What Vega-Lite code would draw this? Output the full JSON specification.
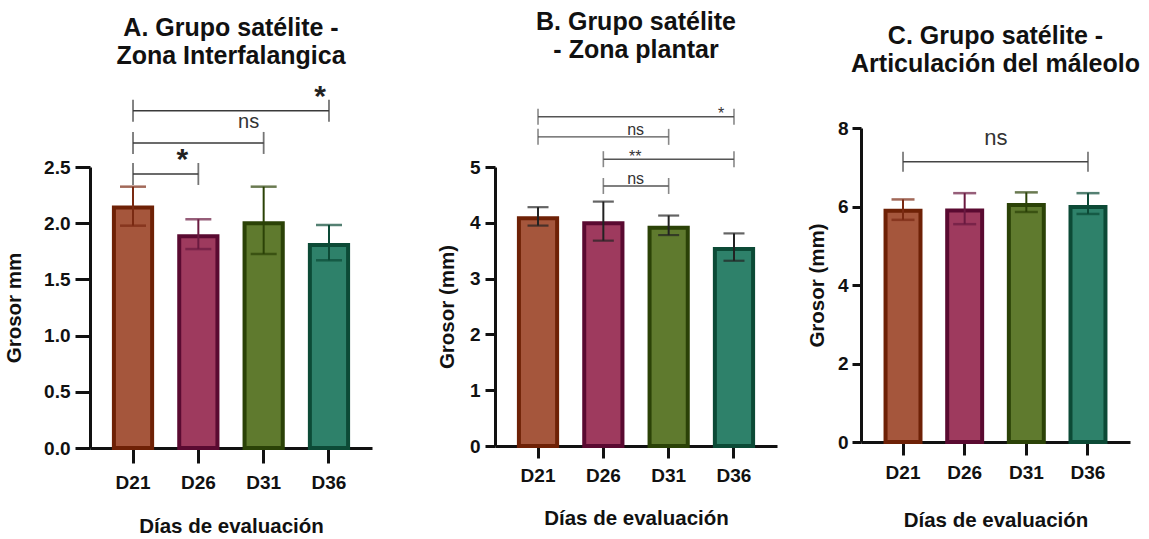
{
  "$schema": "https://vega.github.io/schema/vega-lite/v6.json",
  "background": "white",
  "autosize": "none",
  "padding": {"left": 90, "top": 128, "right": 1059, "bottom": 411},
  "config": {
    "font": "Liberation Sans",
    "view": {"stroke": null},
    "axis": {"domainColor": "#111", "domainWidth": 3, "tickColor": "#111", "tickWidth": 3, "labelFont": "Liberation Sans", "labelFontWeight": "bold", "labelFontSize": 19, "labelColor": "#111", "titleFont": "Liberation Sans", "titleFontWeight": "bold", "titleFontSize": 20.5, "titleColor": "#111", "grid": false},
    "title": {"fontSize": 1, "subtitleFont": "Liberation Sans", "subtitleFontSize": 25, "subtitleFontWeight": "bold", "subtitleColor": "#111", "subtitleLineHeight": 28, "anchor": "middle", "frame": "group"}
  },
  "datasets": {
    "bars": [
      {"panel": "A", "day": "D21", "mean": 2.14, "lo": 1.978, "hi": 2.325},
      {"panel": "A", "day": "D26", "mean": 1.885, "lo": 1.77, "hi": 2.035},
      {"panel": "A", "day": "D31", "mean": 2.0, "lo": 1.726, "hi": 2.325},
      {"panel": "A", "day": "D36", "mean": 1.806, "lo": 1.67, "hi": 1.984},
      {"panel": "B", "day": "D21", "mean": 4.08, "lo": 3.95, "hi": 4.28},
      {"panel": "B", "day": "D26", "mean": 3.99, "lo": 3.68, "hi": 4.38},
      {"panel": "B", "day": "D31", "mean": 3.91, "lo": 3.78, "hi": 4.13},
      {"panel": "B", "day": "D36", "mean": 3.53, "lo": 3.32, "hi": 3.81},
      {"panel": "C", "day": "D21", "mean": 5.89, "lo": 5.66, "hi": 6.18},
      {"panel": "C", "day": "D26", "mean": 5.9, "lo": 5.55, "hi": 6.34},
      {"panel": "C", "day": "D31", "mean": 6.04, "lo": 5.86, "hi": 6.36},
      {"panel": "C", "day": "D36", "mean": 5.99, "lo": 5.81, "hi": 6.34}
    ],
    "brackets": [
      {"panel": "A", "id": "a1", "from": "D21", "to": "D26", "y": 2.438, "label": "*"},
      {"panel": "A", "id": "a2", "from": "D21", "to": "D31", "y": 2.714, "label": "ns"},
      {"panel": "A", "id": "a3", "from": "D21", "to": "D36", "y": 3.0, "label": "*"},
      {"panel": "B", "id": "b1", "from": "D21", "to": "D36", "y": 5.9, "label": "*"},
      {"panel": "B", "id": "b2", "from": "D21", "to": "D31", "y": 5.54, "label": "ns"},
      {"panel": "B", "id": "b3", "from": "D26", "to": "D36", "y": 5.14, "label": "**"},
      {"panel": "B", "id": "b4", "from": "D26", "to": "D31", "y": 4.66, "label": "ns"},
      {"panel": "C", "id": "c1", "from": "D21", "to": "D36", "y": 7.14, "label": "ns"}
    ]
  },
  "spacing": 65,
  "hconcat": [
    {
      "width": 282, "height": 320,
      "title": {"text": " ", "subtitle": ["A. Grupo satélite -", "Zona Interfalangica"], "subtitlePadding": 0, "offset": 13},
      "layer": [
        {"data": {"name": "bars"}, "transform": [{"filter": "datum.panel === 'A'"}],
         "mark": {"type": "bar", "strokeWidth": 4},
         "encoding": {
           "x": {"field": "day", "type": "nominal", "title": "Días de evaluación", "scale": {"domain": ["D21", "D26", "D31", "D36"], "paddingInner": 0.415, "paddingOuter": 0.366}, "axis": {"labelAngle": 0, "tickSize": 15, "labelPadding": 10, "titlePadding": 24}},
           "y": {"field": "mean", "type": "quantitative", "title": "Grosor mm", "scale": {"domain": [0, 2.5], "range": [320, 39], "nice": false}, "axis": {"values": [0, 0.5, 1, 1.5, 2, 2.5], "format": ".1f", "tickSize": 15, "labelPadding": 5, "titlePadding": 19}},
           "fill": {"field": "day", "type": "nominal", "scale": {"domain": ["D21", "D26", "D31", "D36"], "range": ["#A5563C", "#9E3A5E", "#5F7A2E", "#2E816A"]}, "legend": null},
           "stroke": {"field": "day", "type": "nominal", "scale": {"domain": ["D21", "D26", "D31", "D36"], "range": ["#6E2106", "#5A0A31", "#2B4207", "#0C4A36"]}, "legend": null}
         }},
        {"data": {"name": "bars"}, "transform": [{"filter": "datum.panel === 'A'"}],
         "mark": {"type": "rule", "strokeWidth": 2},
         "encoding": {
           "x": {"field": "day", "type": "nominal", "title": "Días de evaluación"},
           "y": {"field": "lo", "type": "quantitative", "title": "Grosor mm", "scale": {"domain": [0, 2.5], "range": [320, 39], "nice": false}},
           "y2": {"field": "hi"},
           "color": {"field": "day", "type": "nominal", "scale": {"domain": ["D21", "D26", "D31", "D36"], "range": ["#7A2A12", "#6A1A40", "#2B4207", "#0C4A36"]}, "legend": null}
         }},
        {"data": {"name": "bars"}, "transform": [{"filter": "datum.panel === 'A'"}],
         "mark": {"type": "tick", "size": 26, "thickness": 2.5},
         "encoding": {
           "x": {"field": "day", "type": "nominal", "title": "Días de evaluación"},
           "y": {"field": "hi", "type": "quantitative", "title": "Grosor mm", "scale": {"domain": [0, 2.5], "range": [320, 39], "nice": false}},
           "color": {"field": "day", "type": "nominal", "legend": null}
         }},
        {"data": {"name": "bars"}, "transform": [{"filter": "datum.panel === 'A'"}],
         "mark": {"type": "tick", "size": 26, "thickness": 2.5},
         "encoding": {
           "x": {"field": "day", "type": "nominal", "title": "Días de evaluación"},
           "y": {"field": "lo", "type": "quantitative", "title": "Grosor mm", "scale": {"domain": [0, 2.5], "range": [320, 39], "nice": false}},
           "color": {"field": "day", "type": "nominal", "legend": null}
         }},
        {"data": {"name": "brackets"}, "transform": [{"filter": "datum.panel === 'A'"}],
         "mark": {"type": "rule", "strokeWidth": 1.6, "color": "#3a3a3a"},
         "encoding": {
           "x": {"field": "from", "type": "nominal", "title": "Días de evaluación"},
           "x2": {"field": "to"},
           "y": {"field": "y", "type": "quantitative", "title": "Grosor mm", "scale": {"domain": [0, 2.5], "range": [320, 39], "nice": false}}
         }},
        {"data": {"name": "brackets"}, "transform": [{"filter": "datum.panel === 'A'"}, {"fold": ["from", "to"], "as": ["end", "pos"]}],
         "mark": {"type": "tick", "orient": "vertical", "size": 22, "thickness": 1.8, "color": "#3a3a3a"},
         "encoding": {
           "x": {"field": "pos", "type": "nominal", "title": "Días de evaluación"},
           "y": {"field": "y", "type": "quantitative", "title": "Grosor mm", "scale": {"domain": [0, 2.5], "range": [320, 39], "nice": false}}
         }},
        {"data": {"name": "brackets"}, "transform": [{"filter": "datum.id === 'a1'"}],
         "mark": {"type": "text", "dx": -16, "dy": -5, "baseline": "alphabetic", "fontSize": 30, "fontWeight": "bold", "color": "#222"},
         "encoding": {"x": {"field": "to", "type": "nominal", "title": "Días de evaluación"}, "y": {"field": "y", "type": "quantitative", "title": "Grosor mm", "scale": {"domain": [0, 2.5], "range": [320, 39], "nice": false}}, "text": {"field": "label"}}},
        {"data": {"name": "brackets"}, "transform": [{"filter": "datum.id === 'a2'"}],
         "mark": {"type": "text", "dx": -15, "dy": -15, "baseline": "alphabetic", "fontSize": 20, "color": "#333"},
         "encoding": {"x": {"field": "to", "type": "nominal", "title": "Días de evaluación"}, "y": {"field": "y", "type": "quantitative", "title": "Grosor mm", "scale": {"domain": [0, 2.5], "range": [320, 39], "nice": false}}, "text": {"field": "label"}}},
        {"data": {"name": "brackets"}, "transform": [{"filter": "datum.id === 'a3'"}],
         "mark": {"type": "text", "dx": -9, "dy": -5, "baseline": "alphabetic", "fontSize": 30, "fontWeight": "bold", "color": "#222"},
         "encoding": {"x": {"field": "to", "type": "nominal", "title": "Días de evaluación"}, "y": {"field": "y", "type": "quantitative", "title": "Grosor mm", "scale": {"domain": [0, 2.5], "range": [320, 39], "nice": false}}, "text": {"field": "label"}}}
      ]
    },
    {
      "spacing": 30,
      "hconcat": [
        {
          "width": 282, "height": 318,
          "title": {"text": " ", "subtitle": ["B. Grupo satélite", "- Zona plantar"], "subtitlePadding": 0, "offset": 43},
          "layer": [
            {"data": {"name": "bars"}, "transform": [{"filter": "datum.panel === 'B'"}],
             "mark": {"type": "bar", "strokeWidth": 4},
             "encoding": {
               "x": {"field": "day", "type": "nominal", "title": "Días de evaluación", "scale": {"domain": ["D21", "D26", "D31", "D36"], "paddingInner": 0.415, "paddingOuter": 0.366}, "axis": {"labelAngle": 0, "tickSize": 12, "labelPadding": 8, "titlePadding": 23}},
               "y": {"field": "mean", "type": "quantitative", "title": "Grosor (mm)", "scale": {"domain": [0, 5], "range": [318, 39], "nice": false}, "axis": {"values": [0, 1, 2, 3, 4, 5], "format": "d", "tickSize": 10, "labelPadding": 5, "titlePadding": 12}},
               "fill": {"field": "day", "type": "nominal", "scale": {"domain": ["D21", "D26", "D31", "D36"], "range": ["#A5563C", "#9E3A5E", "#5F7A2E", "#2E816A"]}, "legend": null},
               "stroke": {"field": "day", "type": "nominal", "scale": {"domain": ["D21", "D26", "D31", "D36"], "range": ["#6E2106", "#5A0A31", "#2B4207", "#0C4A36"]}, "legend": null}
             }},
            {"data": {"name": "bars"}, "transform": [{"filter": "datum.panel === 'B'"}],
             "mark": {"type": "rule", "strokeWidth": 2, "color": "#222"},
             "encoding": {
               "x": {"field": "day", "type": "nominal", "title": "Días de evaluación"},
               "y": {"field": "lo", "type": "quantitative", "title": "Grosor (mm)", "scale": {"domain": [0, 5], "range": [318, 39], "nice": false}},
               "y2": {"field": "hi"}
             }},
            {"data": {"name": "bars"}, "transform": [{"filter": "datum.panel === 'B'"}],
             "mark": {"type": "tick", "size": 21, "thickness": 2.2, "color": "#222"},
             "encoding": {
               "x": {"field": "day", "type": "nominal", "title": "Días de evaluación"},
               "y": {"field": "hi", "type": "quantitative", "title": "Grosor (mm)", "scale": {"domain": [0, 5], "range": [318, 39], "nice": false}}
             }},
            {"data": {"name": "bars"}, "transform": [{"filter": "datum.panel === 'B'"}],
             "mark": {"type": "tick", "size": 21, "thickness": 2.2, "color": "#222"},
             "encoding": {
               "x": {"field": "day", "type": "nominal", "title": "Días de evaluación"},
               "y": {"field": "lo", "type": "quantitative", "title": "Grosor (mm)", "scale": {"domain": [0, 5], "range": [318, 39], "nice": false}}
             }},
            {"data": {"name": "brackets"}, "transform": [{"filter": "datum.panel === 'B'"}],
             "mark": {"type": "rule", "strokeWidth": 1.4, "color": "#555"},
             "encoding": {
               "x": {"field": "from", "type": "nominal", "title": "Días de evaluación"},
               "x2": {"field": "to"},
               "y": {"field": "y", "type": "quantitative", "title": "Grosor (mm)", "scale": {"domain": [0, 5], "range": [318, 39], "nice": false}}
             }},
            {"data": {"name": "brackets"}, "transform": [{"filter": "datum.panel === 'B'"}, {"fold": ["from", "to"], "as": ["end", "pos"]}],
             "mark": {"type": "tick", "orient": "vertical", "size": 16, "thickness": 1.6, "color": "#555"},
             "encoding": {
               "x": {"field": "pos", "type": "nominal", "title": "Días de evaluación"},
               "y": {"field": "y", "type": "quantitative", "title": "Grosor (mm)", "scale": {"domain": [0, 5], "range": [318, 39], "nice": false}}
             }},
            {"data": {"name": "brackets"}, "transform": [{"filter": "datum.id === 'b1'"}],
             "mark": {"type": "text", "dx": -13, "dy": 2, "baseline": "alphabetic", "fontSize": 16, "color": "#333"},
             "encoding": {"x": {"field": "to", "type": "nominal", "title": "Días de evaluación"}, "y": {"field": "y", "type": "quantitative", "title": "Grosor (mm)", "scale": {"domain": [0, 5], "range": [318, 39], "nice": false}}, "text": {"field": "label"}}},
            {"data": {"name": "brackets"}, "transform": [{"filter": "datum.id === 'b2' || datum.id === 'b4'"}],
             "mark": {"type": "text", "dx": -33, "dy": -2, "baseline": "alphabetic", "fontSize": 16, "color": "#333"},
             "encoding": {"x": {"field": "to", "type": "nominal", "title": "Días de evaluación"}, "y": {"field": "y", "type": "quantitative", "title": "Grosor (mm)", "scale": {"domain": [0, 5], "range": [318, 39], "nice": false}}, "text": {"field": "label"}}},
            {"data": {"name": "brackets"}, "transform": [{"filter": "datum.id === 'b3'"}],
             "mark": {"type": "text", "dx": 32, "dy": 3, "baseline": "alphabetic", "fontSize": 16, "color": "#333"},
             "encoding": {"x": {"field": "from", "type": "nominal", "title": "Días de evaluación"}, "y": {"field": "y", "type": "quantitative", "title": "Grosor (mm)", "scale": {"domain": [0, 5], "range": [318, 39], "nice": false}}, "text": {"field": "label"}}}
          ]
        },
        {
          "width": 269, "height": 314,
          "title": {"text": " ", "subtitle": ["C. Grupo satélite -", "Articulación del máleolo"], "subtitlePadding": 0, "offset": 42},
          "layer": [
            {"data": {"name": "bars"}, "transform": [{"filter": "datum.panel === 'C'"}],
             "mark": {"type": "bar", "strokeWidth": 4},
             "encoding": {
               "x": {"field": "day", "type": "nominal", "title": "Días de evaluación", "scale": {"domain": ["D21", "D26", "D31", "D36"], "paddingInner": 0.433, "paddingOuter": 0.398}, "axis": {"labelAngle": 0, "tickSize": 13, "labelPadding": 8, "titlePadding": 28}},
               "y": {"field": "mean", "type": "quantitative", "title": "Grosor (mm)", "scale": {"domain": [0, 8], "nice": false}, "axis": {"values": [0, 2, 4, 6, 8], "format": "d", "tickSize": 9, "labelPadding": 4, "titlePadding": 10}},
               "fill": {"field": "day", "type": "nominal", "scale": {"domain": ["D21", "D26", "D31", "D36"], "range": ["#A5563C", "#9E3A5E", "#5F7A2E", "#2E816A"]}, "legend": null},
               "stroke": {"field": "day", "type": "nominal", "scale": {"domain": ["D21", "D26", "D31", "D36"], "range": ["#6E2106", "#5A0A31", "#2B4207", "#0C4A36"]}, "legend": null}
             }},
            {"data": {"name": "bars"}, "transform": [{"filter": "datum.panel === 'C'"}],
             "mark": {"type": "rule", "strokeWidth": 2},
             "encoding": {
               "x": {"field": "day", "type": "nominal", "title": "Días de evaluación"},
               "y": {"field": "lo", "type": "quantitative", "title": "Grosor (mm)", "scale": {"domain": [0, 8], "nice": false}},
               "y2": {"field": "hi"},
               "color": {"field": "day", "type": "nominal", "scale": {"domain": ["D21", "D26", "D31", "D36"], "range": ["#7A2A12", "#6A1A40", "#2B4207", "#0C4A36"]}, "legend": null}
             }},
            {"data": {"name": "bars"}, "transform": [{"filter": "datum.panel === 'C'"}],
             "mark": {"type": "tick", "size": 23, "thickness": 2.5},
             "encoding": {
               "x": {"field": "day", "type": "nominal", "title": "Días de evaluación"},
               "y": {"field": "hi", "type": "quantitative", "title": "Grosor (mm)", "scale": {"domain": [0, 8], "nice": false}},
               "color": {"field": "day", "type": "nominal", "legend": null}
             }},
            {"data": {"name": "bars"}, "transform": [{"filter": "datum.panel === 'C'"}],
             "mark": {"type": "tick", "size": 23, "thickness": 2.5},
             "encoding": {
               "x": {"field": "day", "type": "nominal", "title": "Días de evaluación"},
               "y": {"field": "lo", "type": "quantitative", "title": "Grosor (mm)", "scale": {"domain": [0, 8], "nice": false}},
               "color": {"field": "day", "type": "nominal", "legend": null}
             }},
            {"data": {"name": "brackets"}, "transform": [{"filter": "datum.panel === 'C'"}],
             "mark": {"type": "rule", "strokeWidth": 1.6, "color": "#444"},
             "encoding": {
               "x": {"field": "from", "type": "nominal", "title": "Días de evaluación"},
               "x2": {"field": "to"},
               "y": {"field": "y", "type": "quantitative", "title": "Grosor (mm)", "scale": {"domain": [0, 8], "nice": false}}
             }},
            {"data": {"name": "brackets"}, "transform": [{"filter": "datum.panel === 'C'"}, {"fold": ["from", "to"], "as": ["end", "pos"]}],
             "mark": {"type": "tick", "orient": "vertical", "size": 20, "thickness": 1.8, "color": "#444"},
             "encoding": {
               "x": {"field": "pos", "type": "nominal", "title": "Días de evaluación"},
               "y": {"field": "y", "type": "quantitative", "title": "Grosor (mm)", "scale": {"domain": [0, 8], "nice": false}}
             }},
            {"data": {"name": "brackets"}, "transform": [{"filter": "datum.id === 'c1'"}],
             "mark": {"type": "text", "dx": -92, "dy": -17, "baseline": "alphabetic", "fontSize": 22, "color": "#333"},
             "encoding": {"x": {"field": "to", "type": "nominal", "title": "Días de evaluación"}, "y": {"field": "y", "type": "quantitative", "title": "Grosor (mm)", "scale": {"domain": [0, 8], "nice": false}}, "text": {"field": "label"}}}
          ]
        }
      ]
    }
  ]
}
